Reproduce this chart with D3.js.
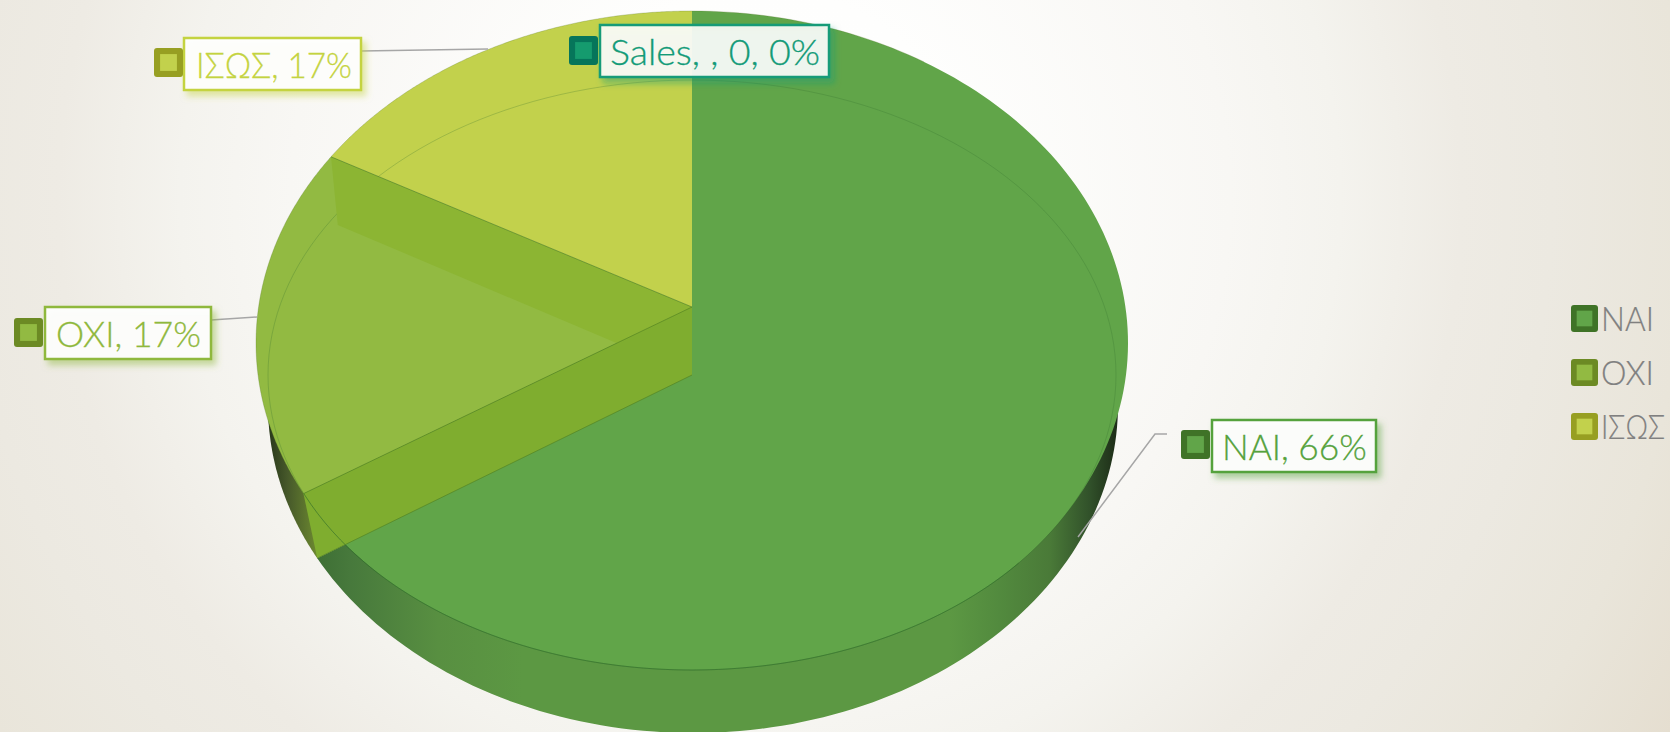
<!DOCTYPE html>
<html><head><meta charset="utf-8">
<script src="https://cdn.jsdelivr.net/npm/d3@7"></script>
<style>html,body{margin:0;padding:0;overflow:hidden;background:#fff}svg{display:block}text{font-family:Lato,"Open Sans",sans-serif;font-weight:300}</style>
</head><body><script>
// ---- data ----
const categories = ["ΝΑΙ", "ΟΧΙ", "ΙΣΩΣ"];
const percents = [66, 17, 17];
const seriesName = "Sales";
const seriesZero = 0;

// ---- styles ----
const topColors = ["#61A549", "#92BA42", "#C2D14C"];
const keyDark = ["#3F7327", "#6C8A24", "#979F22"];
const labelColors = ["#55A23C", "#8FB83C", "#C4D340"];
const salesColor = "#139B78", salesDark = "#06755A";

// ---- layout ----
const W = 1670, H = 732;
const upper = {cx: 692, cy: 343, a: 436, b: 332, apex: 307};
const lower = {cx: 693, cy: 405, a: 425, b: 328, apex: 375};
const inner = {cx: 692, cy: 375, a: 424, b: 295, apex: 375};
const labelBox = [
  {x: 1212, y: 420, w: 164, h: 52, tx: 1222, tw: 145, base: 460, kx: 1181, ky: 430, lead: [[1167,434],[1155,434],[1078,537]]},
  {x: 45, y: 307, w: 166, h: 52, tx: 56, tw: 145, base: 347, kx: 14, ky: 318, lead: [[211,320],[257,317]]},
  {x: 184, y: 38, w: 177, h: 52, tx: 196, tw: 156, base: 78, kx: 154, ky: 48, lead: [[361,51],[488,49]]}
];
const salesBox = {x: 600, y: 25, w: 229, h: 52, tx: 610, tw: 210, base: 65, kx: 569, ky: 36};
const legendY = [305, 359, 413], legendX = 1571, legendTw = [53, 53, 64];

const svg = d3.select("body").append("svg").attr("width", W).attr("height", H);
const defs = svg.append("defs");

function grad(id, stops, attrs) {
  const g = defs.append(attrs.r ? "radialGradient" : "linearGradient").attr("id", id).attr("gradientUnits", "userSpaceOnUse");
  Object.entries(attrs).forEach(([k, v]) => g.attr(k, v));
  stops.forEach(([o, c]) => g.append("stop").attr("offset", o).attr("stop-color", c));
}
grad("bg", [[0, "#FFFFFF"], [0.2, "#FEFEFD"], [0.445, "#F8F7F4"], [0.55, "#F4F3EE"], [0.665, "#EEEBE4"], [0.75, "#ECE9E1"], [0.88, "#E9E5DA"], [1, "#E5DED0"]], {cx: 760, cy: 200, r: 1055});
grad("wallNai", [[0, "#263F1C"], [0.058, "#3E6F35"], [0.097, "#47793C"], [0.2, "#588F41"], [0.3, "#5C9843"], [0.804, "#5C9843"], [0.863, "#528A3E"], [0.922, "#4A7A38"], [0.969, "#31512A"], [1, "#1E2E18"]], {x1: 268, x2: 1116, y1: 0, y2: 0});
grad("wallOxi", [[0, "#1F2D15"], [0.45, "#46582A"], [1, "#6D8A30"]], {x1: 262, x2: 318, y1: 0, y2: 0});

function shadow(id, color) {
  const f = defs.append("filter").attr("id", id).attr("x", "-10%").attr("y", "-20%").attr("width", "125%").attr("height", "150%");
  f.append("feDropShadow").attr("dx", 4).attr("dy", 5).attr("stdDeviation", 3).attr("flood-color", color).attr("flood-opacity", 0.5);
}

svg.append("rect").attr("width", W).attr("height", H).attr("fill", "url(#bg)");

// perspective projection of a pie angle on a plane
function project(p, angle) {
  const k = (p.apex - p.cy) / p.b, c = p.apex - p.cy, s = Math.sqrt(1 - k * k);
  const u = Math.sin(angle), v = -Math.cos(angle), d = 1 + k * v;
  return [p.cx + p.a * s * u / d, p.cy + (p.b * v + c) / d];
}
const apexOf = p => [upper.cx, p.apex];
const line = d3.line();
const rim = (p, a0, a1) => d3.range(0, 181).map(i => project(p, a0 + (a1 - a0) * i / 180));
const sector = (p, a0, a1) => line([apexOf(p), ...rim(p, a0, a1)]) + "Z";

const slices = d3.pie().sort(null).value(d => d)(percents);
const [nai, oxi, isos] = slices;

// side walls
const g = svg.append("g");
g.append("path").attr("d", sector(lower, oxi.startAngle, oxi.endAngle)).attr("fill", "url(#wallOxi)");
g.append("path").attr("d", sector(lower, nai.startAngle, nai.endAngle)).attr("fill", "url(#wallNai)");

// clip the large face: upper rim, flattened to the inner rim at the front
const clip = defs.append("clipPath").attr("id", "faceClip");
clip.append("rect").attr("x", 0).attr("y", 0).attr("width", W).attr("height", 530);
clip.append("path").attr("d", line(rim(inner, 0, 2 * Math.PI)) + "Z");

g.append("path").attr("d", sector(upper, nai.startAngle, nai.endAngle)).attr("fill", topColors[0]).attr("clip-path", "url(#faceClip)");
g.append("path").attr("d", sector(upper, isos.startAngle, isos.endAngle)).attr("fill", topColors[2]);
g.append("path").attr("d", sector(upper, oxi.startAngle, oxi.endAngle)).attr("fill", topColors[1]);

// thin rim on the back edge
g.append("path").attr("d", line(rim(upper, oxi.startAngle, 2 * Math.PI + nai.endAngle * 0.15))).attr("fill", "none").attr("stroke", "#4E6F22").attr("stroke-opacity", 0.35).attr("stroke-width", 0.7);

// inner rim
const innerRim = line(rim(inner, 0, 2 * Math.PI)) + "Z";
g.append("path").attr("d", innerRim).attr("fill", "none").attr("stroke", "#2F6B2A").attr("stroke-opacity", 0.25).attr("stroke-width", 1);
g.append("path").attr("d", line(rim(inner, Math.PI * 0.72, nai.endAngle))).attr("fill", "none").attr("stroke", "#2F6B2A").attr("stroke-opacity", 0.55).attr("stroke-width", 1);

// cut faces
const wallQuad = [apexOf(upper), project(upper, oxi.endAngle), project(lower, oxi.endAngle), apexOf(lower)];
g.append("path").attr("d", line(wallQuad) + "Z").attr("fill", "#8CB533");
const band = [apexOf(upper), apexOf(lower), project(lower, oxi.startAngle), project(upper, oxi.startAngle)];
g.append("path").attr("d", line(band) + "Z").attr("fill", "#7FAD2F");
defs.append("clipPath").attr("id", "bandClip").append("path").attr("d", line(band) + "Z");
g.append("path").attr("d", innerRim).attr("fill", "none").attr("stroke", "#2F6B2A").attr("stroke-opacity", 0.6).attr("clip-path", "url(#bandClip)");

// radial edges
[[apexOf(upper), project(upper, oxi.endAngle)], [apexOf(upper), project(upper, oxi.startAngle)], [apexOf(lower), project(lower, oxi.startAngle)]]
  .forEach(e => g.append("path").attr("d", line(e)).attr("fill", "none").attr("stroke", "#4E7F22").attr("stroke-opacity", 0.6).attr("stroke-width", 1));

// leader lines
labelBox.forEach(b => svg.append("path").attr("d", line(b.lead)).attr("fill", "none").attr("stroke", "#A6A6A6").attr("stroke-width", 1.5));

// text squeezed horizontally to a measured width
function fitText(x, y, width, size, color, strokeW, txt) {
  const t = svg.append("text").attr("fill", color).attr("stroke", color).attr("stroke-width", strokeW).attr("font-size", size).text(txt);
  const natural = t.node().getComputedTextLength();
  t.attr("transform", `translate(${x},${y}) scale(${width / natural},1)`);
}
// key swatch
function key(x, y, w, h, outer, innerColor) {
  svg.append("rect").attr("x", x).attr("y", y).attr("width", w).attr("height", h).attr("rx", 3).attr("fill", outer);
  const mx = w * 0.21, my = h * 0.21;
  svg.append("rect").attr("x", x + mx).attr("y", y + my).attr("width", w - 2 * mx).attr("height", h - 2 * my).attr("fill", innerColor);
}
function callout(id, b, color, dark, innerColor, txt, opacity) {
  shadow(id, color);
  svg.append("rect").attr("x", b.x).attr("y", b.y).attr("width", b.w).attr("height", b.h)
    .attr("fill", "#fff").attr("fill-opacity", opacity).attr("stroke", color).attr("stroke-width", 2.5).attr("filter", `url(#${id})`);
  fitText(b.tx, b.base, b.tw, 36, color, 0.3, txt);
  key(b.kx, b.ky, 29, 29, dark, innerColor);
}
categories.forEach((c, i) => callout("sh" + i, labelBox[i], labelColors[i], keyDark[i], topColors[i], `${c}, ${percents[i]}%`, 0.92));
callout("shS", salesBox, salesColor, salesDark, "#159B6E", `${seriesName}, , ${seriesZero}, ${seriesZero}%`, 0.88);

// legend
categories.forEach((c, i) => {
  key(legendX, legendY[i], 27, 27, keyDark[i], topColors[i]);
  fitText(legendX + 30, legendY[i] + 26, legendTw[i], 33, "#808080", 0.2, c);
});
</script></body></html>
